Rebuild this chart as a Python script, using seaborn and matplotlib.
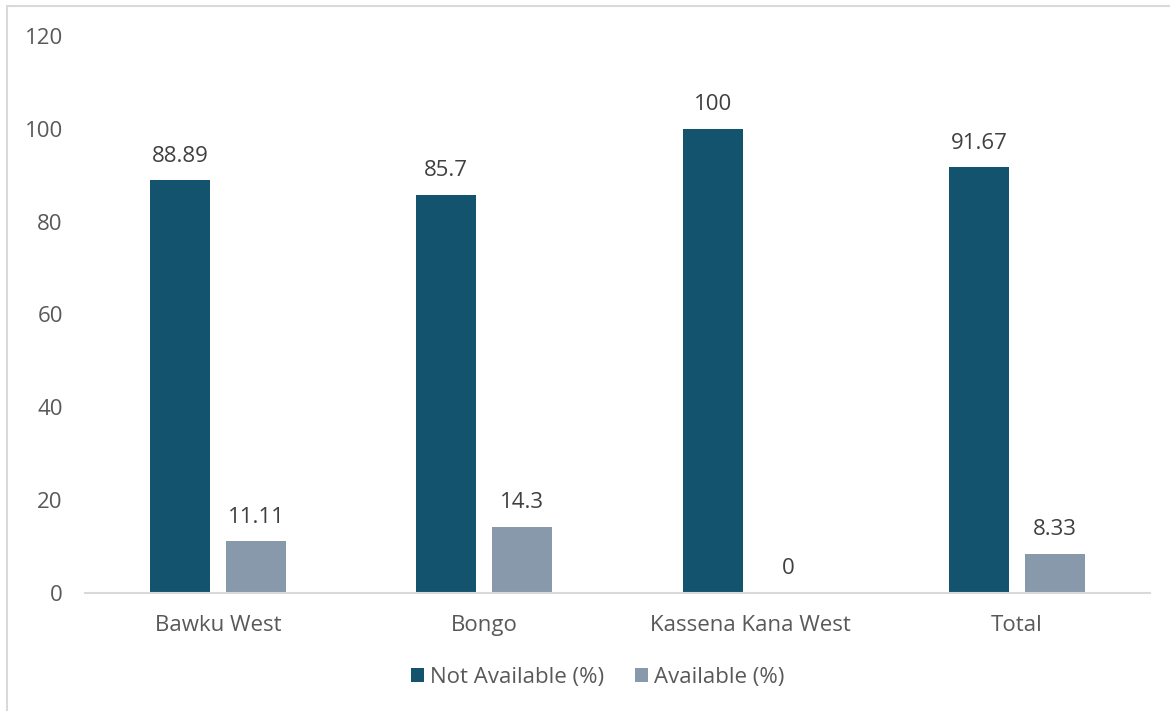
import matplotlib
matplotlib.use("Agg")
import matplotlib.pyplot as plt
import seaborn as sns
import pandas as pd
from matplotlib.patches import Rectangle

categories = ["Bawku West", "Bongo", "Kassena Kana West", "Total"]
not_available = [88.89, 85.7, 100, 91.67]
available = [11.11, 14.3, 0, 8.33]
series_names = ["Not Available (%)", "Available (%)"]
label_text_na = ["88.89", "85.7", "100", "91.67"]
label_text_a = ["11.11", "14.3", "0", "8.33"]
yticks = [0, 20, 40, 60, 80, 100, 120]

df = pd.DataFrame({
    "category": categories * 2,
    "value": not_available + available,
    "series": [series_names[0]] * 4 + [series_names[1]] * 4,
})

sns.set_theme(style="white")
plt.rcParams["font.family"] = ["Open Sans", "DejaVu Sans"]

FS = 16

fig = plt.figure(figsize=(11.7, 7.11), dpi=100)
ax = fig.add_axes([85 / 1170, 1 - 593 / 711, (1150 - 85) / 1170, (593 - 36) / 711])

palette = {series_names[0]: "#14536E", series_names[1]: "#8799AB"}
sns.barplot(data=df, x="category", y="value", hue="series", order=categories,
            hue_order=series_names, palette=palette, width=0.571, gap=0.21,
            saturation=1, ax=ax, legend=True, linewidth=0)

ax.set_ylim(0, 120)
ax.set_xlim(-0.5, 3.5)
ax.set_yticks(yticks)
ax.set_yticklabels([str(t) for t in yticks])
ax.set_xlabel("")
ax.set_ylabel("")
for s in ["top", "right", "left"]:
    ax.spines[s].set_visible(False)
ax.spines["bottom"].set_color("#D9D9D9")
ax.spines["bottom"].set_linewidth(1.5)
ax.tick_params(axis="both", length=0, labelsize=FS, colors="#595959")
ax.tick_params(axis="y", pad=16)
ax.tick_params(axis="x", pad=16)

for cont, labs in zip(ax.containers, [label_text_na, label_text_a]):
    ax.bar_label(cont, labels=labs, padding=10, fontsize=FS, color="#404040")

handles, labels = ax.get_legend_handles_labels()
ax.legend(handles, labels, loc="center", bbox_to_anchor=(597.5 / 1170, 1 - 677 / 711),
          bbox_transform=fig.transFigure, ncol=2, frameon=False, fontsize=FS,
          handlelength=0.6, handleheight=0.6, handletextpad=0.25, columnspacing=1.4,
          labelcolor="#595959")

fig.patches.append(Rectangle((6.5 / 1170, -0.1), 1.2, 1.1 - 6.5 / 711,
                             transform=fig.transFigure, fill=False,
                             edgecolor="#D9D9D9", linewidth=1.5, zorder=0))

fig.savefig("out.png", dpi=100, facecolor="white")
